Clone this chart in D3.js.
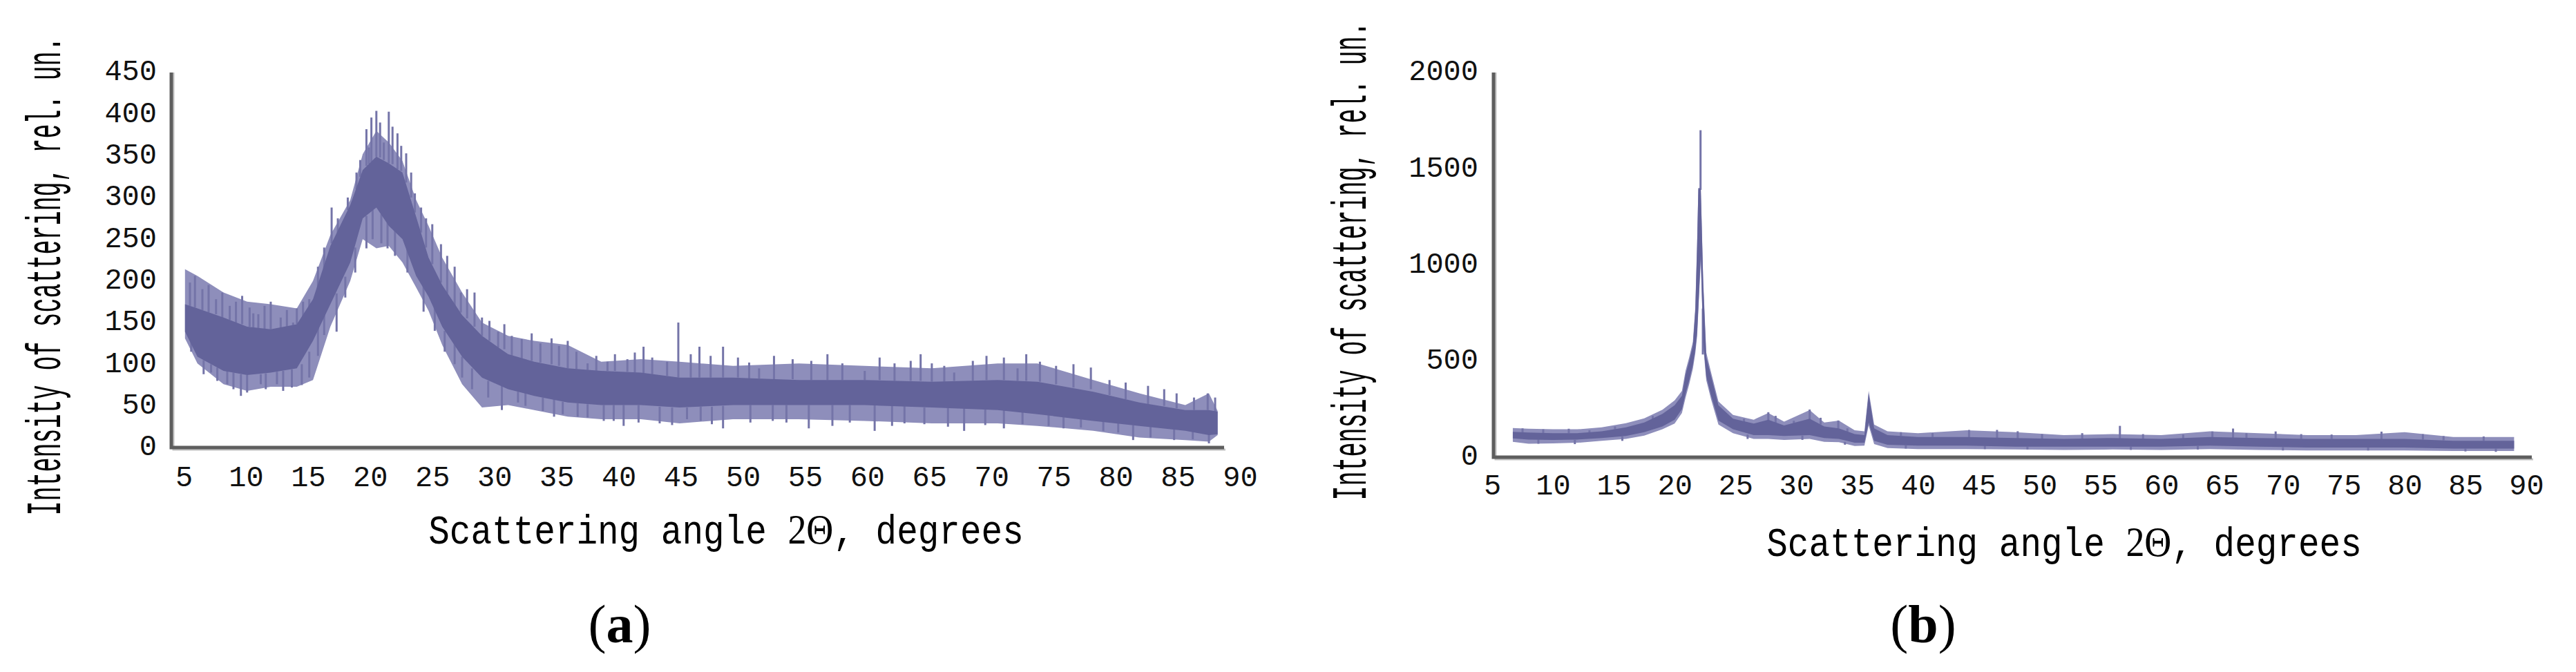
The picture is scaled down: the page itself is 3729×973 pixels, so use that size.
<!DOCTYPE html>
<html>
<head>
<meta charset="utf-8">
<script src="https://cdn.jsdelivr.net/npm/d3@7"></script>
<style>
body { margin: 0; background: #fff; }
</style>
</head>
<body>
<div id="svgWrapper"></div>
<script>

// ---- panel (a): noisy band (angle in degrees, intensity rel. un.)
var angleA    = [5.1, 6.1, 8.2, 10.1, 12.0, 14.1, 15.4, 16.8, 18.4, 19.4, 20.5, 21.5, 22.6, 23.7, 24.7, 25.8, 27.4, 29.0, 31.1, 33.2, 35.9, 38.6, 41.8, 44.9, 49.2, 54.5, 59.8, 65.2, 70.5, 73.7, 78.2, 81.9, 85.6, 87.5, 88.2];
var edgeHighA = [214, 206, 186, 175, 172, 167, 200, 255, 297, 352, 380, 366, 344, 297, 266, 228, 186, 150, 134, 128, 123, 103, 106, 103, 98, 101, 98, 95, 101, 101, 81, 65, 51, 65, 44];
var coreHighA = [172, 167, 156, 145, 142, 148, 178, 242, 291, 333, 349, 341, 330, 277, 228, 195, 159, 134, 112, 103, 95, 92, 90, 84, 84, 81, 81, 79, 81, 79, 67, 54, 45, 45, 43];
var coreLowA  = [139, 109, 92, 87, 90, 95, 128, 172, 222, 275, 288, 266, 250, 206, 181, 145, 109, 84, 70, 62, 54, 51, 51, 48, 51, 51, 51, 48, 45, 40, 32, 26, 20, 15, 16];
var edgeLowA  = [131, 101, 76, 68, 73, 73, 81, 145, 200, 250, 239, 242, 222, 192, 164, 123, 76, 48, 51, 45, 37, 34, 34, 29, 34, 34, 32, 29, 29, 26, 20, 12, 9, 7, 15];

// single spikes sticking out of the band: angle, tip, and where the spike leaves the band
var spikeAngleA = [5.5, 5.9, 6.5, 7.0, 7.6, 8.1, 8.7, 9.2, 9.7, 10.3, 10.6, 11.0, 11.5, 12.0, 12.8, 13.3, 13.8, 14.1, 14.6, 15.1, 15.8, 16.3, 16.9, 17.4, 18.2, 18.9, 19.2, 19.7, 19.9, 20.1, 20.5, 20.8, 21.1, 21.5, 21.8, 22.2, 22.5, 22.9, 23.3, 23.6, 24.1, 24.5, 25.0, 25.7, 26.2, 26.8, 27.3, 27.8, 28.4, 29.0, 29.6, 30.3, 30.8, 31.4, 32.2, 33.0, 33.7, 34.6, 35.2, 35.9, 36.6, 37.5, 38.2, 39.1, 39.7, 40.7, 41.3, 42.0, 42.7, 43.9, 44.8, 45.8, 46.5, 47.4, 48.4, 49.6, 50.5, 51.3, 52.5, 54.0, 55.5, 56.8, 58.0, 59.8, 61.0, 62.2, 63.5, 64.3, 65.2, 66.2, 67.0, 68.5, 69.6, 71.0, 72.1, 72.8, 73.9, 75.2, 76.6, 78.0, 79.5, 80.8, 82.6, 83.9, 84.9, 86.3, 87.4, 88.0,
                   5.6, 6.6, 7.2, 7.7, 8.5, 9.0, 9.6, 10.1, 11.2, 11.6, 12.5, 13.0, 13.7, 14.5, 15.1, 15.8, 16.3, 17.3, 18.0, 18.8, 19.7, 20.2, 20.9, 21.4, 22.0, 23.0, 24.3, 25.2, 26.0, 26.8, 27.4, 28.2, 29.5, 30.6, 31.9, 32.5, 33.9, 34.8, 35.5, 36.7, 37.5, 38.8, 39.6, 40.4, 41.6, 43.3, 44.3, 45.5, 46.6, 47.5, 48.4, 50.6, 52.4, 53.5, 55.3, 57.2, 58.6, 60.6, 62.0, 63.0, 64.6, 66.5, 67.8, 69.5, 71.0, 72.5, 74.6, 75.8, 77.2, 79.0, 80.2, 81.4, 82.8, 84.7, 86.2, 87.5];
var spikeTipA   = [198, 206, 190, 195, 178, 186, 170, 175, 182, 168, 161, 160, 170, 175, 156, 165, 150, 167, 175, 178, 217, 240, 288, 275, 300, 330, 345, 382, 360, 396, 404, 390, 366, 403, 385, 377, 362, 353, 330, 305, 288, 275, 268, 244, 230, 217, 186, 190, 186, 156, 152, 139, 148, 134, 130, 137, 125, 131, 122, 128, 115, 101, 110, 103, 112, 106, 114, 121, 108, 103, 150, 112, 121, 110, 121, 108, 102, 95, 110, 106, 104, 112, 101, 92, 108, 101, 104, 112, 101, 98, 90, 104, 110, 108, 95, 112, 103, 98, 100, 96, 81, 78, 74, 70, 65, 60, 65, 60,
                   115, 88, 90, 80, 76, 70, 62, 66, 76, 70, 76, 68, 72, 75, 84, 110, 135, 139, 180, 210, 239, 250, 245, 239, 230, 210, 163, 140, 115, 100, 84, 70, 60, 45, 54, 50, 44, 37, 40, 37, 36, 32, 32, 26, 30, 29, 27, 34, 32, 28, 23, 30, 32, 30, 23, 26, 30, 20, 26, 29, 28, 25, 20, 27, 23, 28, 26, 23, 24, 20, 18, 9, 12, 9, 10, 5];
var spikeBaseA  = [170, 168, 165, 162, 160, 156, 153, 150, 148, 145, 144, 143, 142, 142, 143, 144, 146, 148, 155, 165, 190, 215, 245, 255, 285, 310, 325, 338, 340, 342, 349, 348, 345, 341, 340, 334, 332, 318, 300, 282, 258, 240, 220, 198, 185, 170, 162, 155, 145, 134, 128, 120, 118, 110, 106, 104, 102, 100, 98, 95, 94, 93, 92, 92, 92, 91, 90, 89, 88, 86, 84, 84, 84, 84, 84, 84, 83, 83, 82, 82, 81, 81, 81, 81, 81, 80, 80, 80, 79, 79, 80, 80, 81, 81, 80, 80, 79, 76, 72, 70, 63, 58, 52, 50, 47, 45, 45, 43,
                   135, 105, 100, 96, 92, 90, 88, 87, 88, 89, 91, 92, 94, 100, 115, 150, 160, 185, 205, 240, 278, 285, 280, 270, 260, 240, 195, 170, 140, 125, 109, 95, 80, 74, 67, 66, 60, 58, 55, 53, 52, 51, 51, 51, 51, 49, 48, 48, 49, 49, 50, 51, 51, 51, 51, 51, 51, 51, 50, 50, 48, 48, 47, 46, 45, 43, 40, 38, 34, 31, 29, 27, 25, 22, 19, 16];

// ---- panel (b)
var angleB    = [6.7, 8, 10, 12, 14, 16, 17.5, 19, 20, 20.6, 20.9, 21.2, 21.5, 21.7, 21.85, 21.95, 22.15, 22.35, 22.6, 23.0, 23.6, 24.8, 26.5, 27.7, 29, 31.1, 32.3, 33.5, 34.8, 35.6, 35.95, 36.4, 37.5, 40, 44, 48, 52, 56, 60, 64, 68, 72, 76, 80, 84, 89];
var edgeHighB = [152, 148, 145, 145, 155, 177, 202, 247, 295, 345, 450, 520, 600, 780, 1120, 1400, 1400, 920, 545, 440, 290, 220, 195, 230, 185, 245, 180, 190, 140, 135, 345, 170, 135, 125, 140, 130, 115, 120, 115, 135, 125, 115, 115, 130, 105, 105];
var coreHighB = [132, 128, 125, 125, 135, 155, 180, 225, 270, 320, 430, 500, 580, 760, 1100, 1396, 1396, 900, 520, 420, 270, 200, 175, 195, 165, 200, 160, 150, 120, 115, 330, 150, 115, 105, 105, 100, 95, 100, 95, 105, 100, 95, 95, 95, 85, 85];
var coreLowB  = [98, 92, 90, 92, 100, 110, 130, 160, 195, 250, 330, 400, 480, 560, 650, 780, 1050, 600, 420, 320, 190, 145, 115, 115, 110, 115, 100, 95, 75, 75, 180, 85, 65, 60, 60, 55, 55, 55, 55, 60, 55, 50, 50, 50, 45, 45];
var edgeLowB  = [80, 70, 72, 75, 85, 95, 112, 145, 175, 230, 310, 380, 460, 540, 630, 760, 1030, 580, 400, 300, 170, 125, 95, 95, 90, 95, 80, 78, 58, 60, 165, 68, 48, 42, 42, 40, 38, 40, 38, 42, 38, 35, 35, 35, 32, 32];

var spikeAngleB = [22.13, 22.32, 7.5, 9.2, 11.3, 13.0, 15.1, 18.2, 24.2, 25.7, 27.7, 28.3, 29.8, 31.1, 32.0, 33.45, 34.2, 38.6, 41.2, 44.2, 46.5, 48.2, 50.2, 53.5, 56.6, 58.5, 61.8, 64.2, 65.9, 67.0, 69.4, 71.5, 74.0, 78.1, 81.5, 83.2, 86.5,
                   8.8, 11.8, 15.7, 26.0, 30.5, 34.0, 39.0, 45.5, 49.0, 57.5, 63.0, 70.0, 77.0, 85.0, 87.5];
var spikeTipB   = [1700, 773, 150, 145, 148, 140, 160, 215, 230, 200, 234, 215, 190, 248, 205, 191, 150, 130, 125, 142, 142, 135, 120, 125, 163, 120, 118, 134, 149, 125, 134, 120, 118, 133, 120, 110, 108,
                   70, 68, 85, 95, 90, 65, 45, 42, 40, 38, 40, 35, 35, 30, 28];
var spikeBaseB  = [1390, 534, 128, 126, 124, 128, 145, 195, 210, 180, 180, 170, 160, 190, 170, 150, 125, 110, 105, 100, 100, 95, 95, 95, 95, 95, 96, 95, 100, 100, 95, 95, 95, 90, 92, 88, 85,
                   92, 90, 108, 118, 112, 80, 62, 60, 55, 55, 58, 52, 50, 45, 45];

// ---- axes
var xTicks  = [5, 10, 15, 20, 25, 30, 35, 40, 45, 50, 55, 60, 65, 70, 75, 80, 85, 90];
var yTicksA = [0, 50, 100, 150, 200, 250, 300, 350, 400, 450];
var yTicksB = [0, 500, 1000, 1500, 2000];

var yTitle = "Intensity of scattering, rel. un.";
var xTitleParts = ["Scattering angle ", "2\u0398", ", degrees"];

var fullWidth = 3729, fullHeight = 973;
var mono = "'Liberation Mono', 'DejaVu Sans Mono', monospace";
var serif = "'Liberation Serif', 'Times New Roman', serif";

var svg = d3.select("#svgWrapper")
	.append("svg")
	.attr("width", fullWidth)
	.attr("height", fullHeight)
	.style("background", "#fff");

function drawPanel(p) {
	var g = svg.append("g");

	var xScale = d3.scaleLinear().domain([5, 90]).range([p.x5, p.x90]);
	var yScale = d3.scaleLinear().domain([0, p.ymax]).range([p.y0, p.ytop]);
	var idx = d3.range(p.angle.length);

	var edgeArea = d3.area()
		.x(function(i) { return xScale(p.angle[i]); })
		.y0(function(i) { return yScale(p.edgeLow[i]); })
		.y1(function(i) { return yScale(p.edgeHigh[i]); });
	var coreArea = d3.area()
		.x(function(i) { return xScale(p.angle[i]); })
		.y0(function(i) { return yScale(p.coreLow[i]); })
		.y1(function(i) { return yScale(p.coreHigh[i]); });

	g.append("path").attr("d", edgeArea(idx)).attr("fill", "#8e8ebb");
	g.selectAll("line.spike")
		.data(d3.range(p.spikeAngle.length))
		.enter().append("line")
		.attr("class", "spike")
		.attr("x1", function(i) { return xScale(p.spikeAngle[i]); })
		.attr("x2", function(i) { return xScale(p.spikeAngle[i]); })
		.attr("y1", function(i) { return yScale(p.spikeBase[i]); })
		.attr("y2", function(i) { return yScale(p.spikeTip[i]); })
		.attr("stroke", "#7474a8")
		.attr("stroke-width", 3);
	g.append("path").attr("d", coreArea(idx)).attr("fill", "#63639a");

	// axis lines (grey with a light shadow)
	g.append("path")
		.attr("d", "M" + (p.axisX + 3) + "," + p.ytop + "V" + (p.y0 + 3) + "H" + (p.xEnd + 2))
		.attr("fill", "none").attr("stroke", "#c4c4c4").attr("stroke-width", 3);
	g.append("path")
		.attr("d", "M" + p.axisX + "," + p.ytop + "V" + p.y0 + "H" + p.xEnd)
		.attr("fill", "none").attr("stroke", "#5e5e5e").attr("stroke-width", 5);

	// tick labels
	var xAxis = g.append("g")
		.attr("transform", "translate(0," + p.y0 + ")")
		.call(d3.axisBottom(xScale).tickValues(xTicks).tickSize(0).tickFormat(d3.format("d")));
	var yAxis = g.append("g")
		.attr("transform", "translate(" + p.axisX + ",0)")
		.call(d3.axisLeft(yScale).tickValues(p.yTicks).tickSize(0).tickFormat(d3.format("d")));
	g.selectAll(".domain").remove();
	xAxis.selectAll("text")
		.attr("y", p.xLabelOff).attr("dy", "0.33em")
		.style("font-family", mono).style("font-size", "42px").attr("fill", "#111");
	yAxis.selectAll("text")
		.attr("x", p.yLabelOff).attr("y", -3).attr("dy", "0.33em")
		.style("font-family", mono).style("font-size", "42px").attr("fill", "#111");

	// titles
	g.append("text")
		.attr("transform", "translate(" + p.yTitleX + "," + p.yTitleY + ") rotate(-90) scale(1,2)")
		.attr("text-anchor", "middle")
		.style("font-family", mono).style("font-size", p.yTitleSize + "px")
		.text(yTitle);
	var xt = g.append("text")
		.attr("transform", "translate(" + p.xTitleX + "," + p.xTitleY + ") scale(1,1.15)")
		.attr("text-anchor", "middle")
		.style("font-family", mono).style("font-size", "51px");
	xt.append("tspan").text(xTitleParts[0]);
	xt.append("tspan").style("font-family", serif).style("font-size", "54px").text(xTitleParts[1]);
	xt.append("tspan").text(xTitleParts[2]);

	var lab = g.append("text")
		.attr("x", p.tagX).attr("y", 930)
		.attr("text-anchor", "middle")
		.style("font-family", serif).style("font-size", "78px");
	lab.append("tspan").text("(");
	lab.append("tspan").style("font-weight", "bold").text(p.tag);
	lab.append("tspan").text(")");
}

drawPanel({
	angle: angleA, edgeHigh: edgeHighA, coreHigh: coreHighA, coreLow: coreLowA, edgeLow: edgeLowA,
	spikeAngle: spikeAngleA, spikeTip: spikeTipA, spikeBase: spikeBaseA,
	ymax: 450, yTicks: yTicksA,
	x5: 266, x90: 1795, y0: 648, ytop: 105, axisX: 248, xEnd: 1772,
	xLabelOff: 42, yLabelOff: -21,
	yTitleX: 87, yTitleY: 400, yTitleSize: 35, xTitleX: 1051, xTitleY: 787,
	tagX: 897, tag: "a"
});

drawPanel({
	angle: angleB, edgeHigh: edgeHighB, coreHigh: coreHighB, coreLow: coreLowB, edgeLow: edgeLowB,
	spikeAngle: spikeAngleB, spikeTip: spikeTipB, spikeBase: spikeBaseB,
	ymax: 2000, yTicks: yTicksB,
	x5: 2160, x90: 3657, y0: 662, ytop: 105, axisX: 2162, xEnd: 3665,
	xLabelOff: 40, yLabelOff: -22,
	yTitleX: 1977, yTitleY: 378, yTitleSize: 35, xTitleX: 2988, xTitleY: 805,
	tagX: 2784, tag: "b"
});

</script>
</body>
</html>
